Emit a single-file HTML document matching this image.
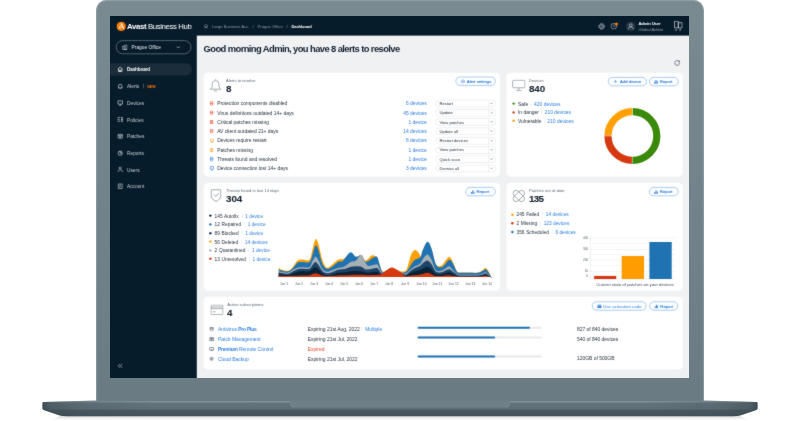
<!DOCTYPE html><html><head><meta charset="utf-8"><title>Avast Business Hub</title><style>
*{box-sizing:border-box;margin:0;padding:0}
html,body{width:800px;height:421px;overflow:hidden;background:#fff;font-family:"Liberation Sans",sans-serif}
#stage{position:relative;width:800px;height:421px;overflow:hidden;background:#fff}
#lid{position:absolute;left:96.2px;top:-.3px;width:607.4px;height:401.3px;background:linear-gradient(#798a91,#6a7b84);border-radius:10.5px 10.5px 0 0;box-shadow:inset 0 1.2px 0 0 rgba(165,180,187,.45),inset 1.2px 0 0 0 rgba(165,180,187,.45),inset -1.2px 0 0 0 rgba(165,180,187,.45)}
#base{position:absolute;left:0;top:0;width:800px;height:421px}
#scr{filter:url(#soft);position:absolute;left:110px;top:16.3px;width:1446.5px;height:903px;transform:scale(.4);transform-origin:0 0;background:#eff1f3;overflow:hidden;color:#1e2b3a}
#scr div,#scr span,#scr svg{position:absolute}
#side{left:0;top:0;width:217px;height:903px;background:#071c2b}
#head{left:0;top:0;width:1447px;height:49px;background:#071c2b}
.card{background:#fff;border-radius:11px}
.t{white-space:nowrap;line-height:1}

.lbl{color:#5b6773}
.big{font-weight:bold;color:#14202e;letter-spacing:-1.6px;-webkit-text-stroke:.25px #14202e}
.row{font-size:12.3px;color:#1e2b3a}
.lnk{color:#2a7de1}
.btn{border:1.4px solid #2a7de1;border-radius:12px;background:#fff;color:#2a7de1;font-size:10.6px;height:22px;-webkit-text-stroke:.3px #2a7de1}
.btn .t{top:5px}
.dd{border:1px solid #d5dade;border-radius:10px;background:#fff;height:18px;width:151px;left:814px}
.dd .t{left:9px;top:3.5px;font-size:10.4px;color:#1e2b3a}
.dd i{position:absolute;left:130px;top:0;width:1px;height:16px;background:#d5dade}
.dot{width:6px;height:6px;border-radius:50%}
.sep{width:1px;height:11px;background:#d5dade}
</style></head><body><div id="stage"><svg width="0" height="0" style="position:absolute"><defs><filter id="soft" x="0" y="0" width="1" height="1" color-interpolation-filters="sRGB"><feConvolveMatrix order="3" kernelMatrix="0.02 0.06 0.02 0.06 0.68 0.06 0.02 0.06 0.02" edgeMode="duplicate" preserveAlpha="true"/></filter></defs></svg>
<svg id="base" viewBox="0 0 800 421">
<defs>
<linearGradient id="bg1" x1="0" y1="0" x2="0" y2="1"><stop offset="0" stop-color="#8a989f"/><stop offset=".1" stop-color="#7d8d94"/><stop offset=".16" stop-color="#63747d"/><stop offset=".55" stop-color="#5e6f78"/><stop offset=".6" stop-color="#4a5860"/><stop offset="1" stop-color="#455259"/></linearGradient>
<linearGradient id="sh" x1="0" y1="0" x2="0" y2="1"><stop offset="0" stop-color="#000" stop-opacity=".18"/><stop offset="1" stop-color="#000" stop-opacity="0"/></linearGradient>
<linearGradient id="edge" x1="0" y1="0" x2="1" y2="0"><stop offset="0" stop-color="#35434b" stop-opacity=".8"/><stop offset=".012" stop-color="#3a4850" stop-opacity=".5"/><stop offset=".05" stop-color="#3f4d55" stop-opacity=".25"/><stop offset=".16" stop-color="#3f4d55" stop-opacity="0"/><stop offset=".84" stop-color="#3f4d55" stop-opacity="0"/><stop offset=".95" stop-color="#3f4d55" stop-opacity=".25"/><stop offset=".988" stop-color="#3a4850" stop-opacity=".5"/><stop offset="1" stop-color="#35434b" stop-opacity=".8"/></linearGradient>
</defs>
<path d="M62 415 H738 L748 420 H52 Z" fill="url(#sh)"/>
<path d="M43.800 402 Q42.500 402 42.500 403.300 V408.600 Q42.500 409.600 43.800 410 L59 415.200 Q62.500 416.300 67 416.300 H733 Q737.500 416.300 741 415.200 L756.200 410 Q757.500 409.600 757.500 408.600 V403.300 Q757.500 402 756.200 402 L704 400.500 H96 Z" fill="url(#bg1)"/>
<path d="M43.800 402 Q42.500 402 42.500 403.300 V408.600 Q42.500 409.600 43.800 410 L59 415.200 Q62.500 416.300 67 416.300 H733 Q737.500 416.300 741 415.200 L756.200 410 Q757.500 409.600 757.500 408.600 V403.300 Q757.500 402 756.200 402 L704 400.500 H96 Z" fill="url(#edge)"/>
<path d="M290 401 H510 V405.5 Q510 407.5 507 407.5 H293 Q290 407.5 290 405.5 Z" fill="#6f8089"/>
</svg>
<div id="lid"></div>
<div id="scr">
<div id="side"></div><div id="head"></div>
<svg style="left:15.800px;top:13.800px" width="24" height="24" viewBox="-12 -12 24 24"><circle r="11.600" fill="#ff7a00"/><g stroke="#fff" stroke-linecap="round" fill="none"><path d="M.300 -6.800L5.800 4.600" stroke-width="2.800"/><path d="M-1.600 -2.200L-5.800 5.300" stroke-width="2.200"/><path d="M1.200 .800L-1.200 5" stroke-width="1.700"/></g></svg>
<span class="t " style="left:42.5px;top:16.0px;font-size:19.5px;color:#fff;letter-spacing:-.95px"><b style="letter-spacing:-.9px">Avast</b> Business Hub</span>
<div style="left:15px;top:61px;width:188px;height:34px;border:1.3px solid #b9c2c9;border-radius:17px"></div>
<svg style="left:30px;top:71px" width="14" height="14" viewBox="0 0 14 14" fill="none" stroke="#dfe4e8" stroke-width="1.3"><path d="M5.5 12.5V1.5h7v11zM5.5 5h-4v7.5h11M8 4.5h2M8 7h2M8 9.500h2"/></svg>
<span class="t " style="left:54.0px;top:72.8px;font-size:12px;color:#e4e8ec">Prague Office</span>
<svg style="left:165px;top:73px" width="12" height="10" viewBox="0 0 12 10" fill="none" stroke="#dfe4e8" stroke-width="1.5"><path d="M2 3l4 4 4-4"/></svg>
<div style="left:0;top:118px;width:205px;height:31px;background:#1b2d3b;border-radius:0 16px 16px 0"></div>
<svg style="left:18px;top:126.2px" width="15" height="15" viewBox="0 0 14 14" fill="none" stroke="#fff" stroke-width="1.600"><path d="M1.5 6.500L7 1.500l5.500 5M3 5.500V12h8V5.500M5.500 12V8.500h3V12"/></svg>
<span class="t " style="left:42.5px;top:128.8px;font-size:11.5px;color:#fff;font-weight:bold;letter-spacing:-.3px">Dashboard</span>
<svg style="left:18px;top:167.9px" width="15" height="15" viewBox="0 0 14 14" fill="none" stroke="#d3d9de" stroke-width="1.600"><path d="M3 10V6.500a4 4 0 018 0V10l1 1H2zM5.800 12.500h2.400"/></svg>
<span class="t " style="left:42.5px;top:170.2px;font-size:12px;color:#c3cad1">Alerts</span>
<div style="left:84px;top:169.4px;width:1px;height:12px;background:#8b97a1"></div>
<span class="t " style="left:93.0px;top:172.8px;font-size:8.6px;color:#ff7800;font-weight:bold;letter-spacing:.4px">NEW</span>
<svg style="left:18px;top:209.6px" width="15" height="15" viewBox="0 0 14 14" fill="none" stroke="#d3d9de" stroke-width="1.600"><path d="M1.500 2h11v7.500h-11zM7 9.500v2.500M4.500 12.300h5" stroke-width="1.5"/></svg>
<span class="t " style="left:42.5px;top:211.9px;font-size:12px;color:#c3cad1">Devices</span>
<svg style="left:18px;top:251.2px" width="15" height="15" viewBox="0 0 14 14" fill="none" stroke="#d3d9de" stroke-width="1.600"><path d="M.500 3h6.500M.500 7h5M.500 11h6.500M9 3h4.500M11.200 3v8.500M9.200 7.500h4M9.200 11.500h4" stroke-width="1.600"/></svg>
<span class="t " style="left:42.5px;top:253.5px;font-size:12px;color:#c3cad1">Policies</span>
<svg style="left:18px;top:292.9px" width="15" height="15" viewBox="0 0 14 14" fill="none" stroke="#d3d9de" stroke-width="1.600"><path d="M2 2.500h10v9H2zM2 5h10M4.500 7.500h5M4.500 9.500h5" stroke-width="1.400"/></svg>
<span class="t " style="left:42.5px;top:295.2px;font-size:12px;color:#c3cad1">Patches</span>
<svg style="left:18px;top:334.5px" width="15" height="15" viewBox="0 0 14 14" fill="none" stroke="#d3d9de" stroke-width="1.600"><path d="M7 2.500a5 5 0 105 5H7zM9 1.500v3.500h3.500"/></svg>
<span class="t " style="left:42.5px;top:336.8px;font-size:12px;color:#c3cad1">Reports</span>
<svg style="left:18px;top:376.1px" width="15" height="15" viewBox="0 0 14 14" fill="none" stroke="#d3d9de" stroke-width="1.600"><path d="M7 6.500a2.600 2.600 0 100-5.200 2.600 2.600 0 000 5.200zM2 13c0-3.500 2-5 5-5s5 1.500 5 5" stroke-width="1.400"/></svg>
<span class="t " style="left:42.5px;top:378.5px;font-size:12px;color:#c3cad1">Users</span>
<svg style="left:18px;top:417.8px" width="15" height="15" viewBox="0 0 14 14" fill="none" stroke="#d3d9de" stroke-width="1.600"><path d="M2.500 1.500h9v11h-9zM5 4.500h4M5 7h4M5 9.500h2" stroke-width="1.400"/></svg>
<span class="t " style="left:42.5px;top:420.1px;font-size:12px;color:#c3cad1">Account</span>
<svg style="left:18.500px;top:867.5px" width="13" height="13" viewBox="0 0 13 13" fill="none" stroke="#b8c1c9" stroke-width="1.700"><path d="M6 1.500L1.500 6.500 6 11.500M11.500 1.500L7 6.500l4.500 5"/></svg>
<svg style="left:234.0px;top:19px" width="12" height="12" viewBox="0 0 14 14" fill="none" stroke="#9aa5af" stroke-width="1.300"><path d="M1.5 6.500L7 1.500l5.500 5M3 5.500V12h8V5.500M5.500 12V8.500h3V12"/></svg>
<span class="t " style="left:255.0px;top:22.4px;font-size:10.3px;color:#8e9aa5">Large Business Acc.</span>
<span class="t " style="left:356.5px;top:22.4px;font-size:10.3px;color:#8e9aa5">/</span>
<span class="t " style="left:369.0px;top:22.4px;font-size:10.3px;color:#8e9aa5">Prague Office</span>
<span class="t " style="left:441.5px;top:22.4px;font-size:10.3px;color:#8e9aa5">/</span>
<span class="t " style="left:453.5px;top:22.4px;font-size:10.3px;color:#fff;font-weight:bold;letter-spacing:-.35px">Dashboard</span>
<svg style="left:1220.0px;top:16.5px" width="18" height="18" viewBox="-9 -9 18 18" fill="none" stroke="#c3cad1"><circle r="5.200" stroke-width="1.500"/><circle r="7" stroke-width="2.400" stroke-dasharray="2.750 2.750"/><circle r="2" stroke-width="1.300"/></svg>
<svg style="left:1249.8px;top:14.8px" width="20" height="20" viewBox="0 0 20 20" fill="none" stroke="#c3cad1" stroke-width="1.400"><circle cx="9.500" cy="10.500" r="7"/><path d="M9.500 6v5h3"/><circle cx="16" cy="5" r="3.800" fill="#ff7800" stroke="none"/></svg>
<svg style="left:1290.0px;top:14.2px" width="24" height="24" viewBox="0 0 24 24" fill="none" stroke="#e4e8ec" stroke-width="1.500"><circle cx="12" cy="12" r="12" fill="#243544" stroke="none"/><circle cx="12" cy="9.300" r="3.600"/><path d="M5.500 19.500c0-4 3-6 6.500-6s6.500 2 6.500 6"/></svg>
<span class="t " style="left:1321.2px;top:12.8px;font-size:10.5px;color:#fff;font-weight:bold;letter-spacing:-.4px">Admin User</span>
<span class="t " style="left:1321.2px;top:28.1px;font-size:10.5px;color:#8e9aa5">Global Admin</span>
<svg style="left:1410.0px;top:12.3px" width="22" height="26" viewBox="0 0 22 26" fill="none" stroke="#c9d0d6" stroke-width="1.800"><path d="M1.200 1.200h9.500v16.500h-9.500zM10.700 4.700h9.500v13h-9.500z"/><path d="M3.500 21h3v3h-3zM14 21h3v3h-3z" fill="#c9d0d6" stroke="none"/></svg>
<span class="t " style="left:234.0px;top:71.3px;font-size:23.5px;font-weight:bold;color:#14202e;letter-spacing:-1.5px">Good morning Admin, you have 8 alerts to resolve</span>
<svg style="left:1409.5px;top:108.5px" width="16" height="16" viewBox="0 0 16 16" fill="none" stroke="#3a4652" stroke-width="1.700"><path d="M13.200 5.300A6 6 0 1014 9"/><path d="M14 2v4h-4" stroke-width="1.500"/></svg>
<div class="card" style="left:234.0px;top:141.5px;width:741.0px;height:259.2px"></div>
<div class="card" style="left:990.8px;top:141.5px;width:441.0px;height:259.2px"></div>
<div class="card" style="left:234.0px;top:416.5px;width:741.0px;height:270.0px"></div>
<div class="card" style="left:990.8px;top:416.5px;width:441.0px;height:270.0px"></div>
<div class="card" style="left:234.0px;top:701.5px;width:1197.8px;height:182.8px"></div>
<svg style="left:248.3px;top:156.0px" width="32" height="34" viewBox="0 0 32 34" fill="none" stroke="#8d979f" stroke-width="1.900"><path d="M16 2v2.500M7.500 21.500V14a8.500 8.500 0 0117 0v7.500l4.500 5.500H3zM12 31h8"/></svg>
<span class="t lbl" style="left:290.0px;top:156.4px;font-size:10.3px;">Alerts to resolve</span>
<span class="t big" style="left:290.0px;top:169.1px;font-size:24.4px;">8</span>
<div class="btn" style="left:864.0px;top:152.2px;width:100.0px"><svg style="left:12px;top:4.500px" width="11" height="11" viewBox="0 0 12 12" fill="none" stroke="#2a7de1" stroke-width="1.300"><path d="M6 1l4.300 2.500v5L6 11 1.700 8.500v-5z"/><circle cx="6" cy="6" r="1.600"/></svg><span class="t" style="left:27px;">Alert settings</span></div>
<svg style="left:248.5px;top:212.7px" width="10" height="12" viewBox="0 0 10 12" fill="none" stroke="#ea4a2c" stroke-width="1.800"><path d="M1.500 2.800Q1.500 1 3.200 1h3.600Q8.500 1 8.500 2.800V7Q8.500 9.800 5 11.200Q1.500 9.800 1.500 7zM1.500 5.600h7"/></svg>
<span class="t row" style="left:268.0px;top:213.4px;font-size:12.3px;">Protection components disabled</span>
<span class="t lnk" style="right:654.5px;top:213.4px;font-size:12.3px">6 devices</span>
<div class="dd" style="left:813.5px;top:209.7px"><span class="t">Restart</span><i></i><svg style="left:135px;top:5px" width="8" height="6" viewBox="0 0 8 6" fill="none" stroke="#3a4652" stroke-width="1.200"><path d="M1 1l3 3 3-3"/></svg></div>
<svg style="left:248.5px;top:236.0px" width="10" height="12" viewBox="0 0 10 12" fill="none" stroke="#ea4a2c" stroke-width="1.800"><path d="M1.500 2.800Q1.500 1 3.200 1h3.600Q8.500 1 8.500 2.800V7Q8.500 9.800 5 11.200Q1.500 9.800 1.500 7zM1.500 5.600h7"/></svg>
<span class="t row" style="left:268.0px;top:236.6px;font-size:12.3px;">Virus definitions outdated 14+ days</span>
<span class="t lnk" style="right:654.5px;top:236.7px;font-size:12.3px">45 devices</span>
<div class="dd" style="left:813.5px;top:233.0px"><span class="t">Update</span><i></i><svg style="left:135px;top:5px" width="8" height="6" viewBox="0 0 8 6" fill="none" stroke="#3a4652" stroke-width="1.200"><path d="M1 1l3 3 3-3"/></svg></div>
<svg style="left:248.5px;top:259.2px" width="10" height="12" viewBox="0 0 10 12"><rect x=".3" y="1.300" width="9.400" height="9.400" rx="2.200" fill="#f0806c"/><path d="M2.500 4.500h5M2.500 7.500h5" stroke="#fff" stroke-width="1"/></svg>
<span class="t row" style="left:268.0px;top:259.9px;font-size:12.3px;">Critical patches missing</span>
<span class="t lnk" style="right:654.5px;top:259.9px;font-size:12.3px">1 device</span>
<div class="dd" style="left:813.5px;top:256.2px"><span class="t">View patches</span><i></i><svg style="left:135px;top:5px" width="8" height="6" viewBox="0 0 8 6" fill="none" stroke="#3a4652" stroke-width="1.200"><path d="M1 1l3 3 3-3"/></svg></div>
<svg style="left:248.5px;top:282.4px" width="10" height="12" viewBox="0 0 10 12" fill="none" stroke="#ea4a2c" stroke-width="1.800"><path d="M1.500 2.800Q1.500 1 3.200 1h3.600Q8.500 1 8.500 2.800V7Q8.500 9.800 5 11.200Q1.500 9.800 1.500 7zM1.500 5.600h7"/></svg>
<span class="t row" style="left:268.0px;top:283.1px;font-size:12.3px;">AV client outdated 21+ days</span>
<span class="t lnk" style="right:654.5px;top:283.1px;font-size:12.3px">14 devices</span>
<div class="dd" style="left:813.5px;top:279.4px"><span class="t">Update all</span><i></i><svg style="left:135px;top:5px" width="8" height="6" viewBox="0 0 8 6" fill="none" stroke="#3a4652" stroke-width="1.200"><path d="M1 1l3 3 3-3"/></svg></div>
<svg style="left:248.5px;top:305.7px" width="11" height="12" viewBox="0 0 11 12" fill="none" stroke="#f5a21b" stroke-width="1.800"><path d="M2.500 1.500h6Q10 1.500 10 3v3.500Q10 8 8.500 8h-6Q1 8 1 6.500V3Q1 1.500 2.500 1.500zM3.500 10.700h4"/></svg>
<span class="t row" style="left:268.0px;top:306.4px;font-size:12.3px;">Devices require restart</span>
<span class="t lnk" style="right:654.5px;top:306.4px;font-size:12.3px">6 devices</span>
<div class="dd" style="left:813.5px;top:302.7px"><span class="t">Restart devices</span><i></i><svg style="left:135px;top:5px" width="8" height="6" viewBox="0 0 8 6" fill="none" stroke="#3a4652" stroke-width="1.200"><path d="M1 1l3 3 3-3"/></svg></div>
<svg style="left:248.5px;top:328.9px" width="10" height="12" viewBox="0 0 10 12"><rect x=".3" y="1.300" width="9.400" height="9.400" rx="2.200" fill="#fbbf5e"/><path d="M2.500 4.500h5M2.500 7.500h5" stroke="#fff" stroke-width="1"/></svg>
<span class="t row" style="left:268.0px;top:329.6px;font-size:12.3px;">Patches missing</span>
<span class="t lnk" style="right:654.5px;top:329.6px;font-size:12.3px">1 device</span>
<div class="dd" style="left:813.5px;top:325.9px"><span class="t">View patches</span><i></i><svg style="left:135px;top:5px" width="8" height="6" viewBox="0 0 8 6" fill="none" stroke="#3a4652" stroke-width="1.200"><path d="M1 1l3 3 3-3"/></svg></div>
<svg style="left:248.5px;top:352.2px" width="10" height="12" viewBox="0 0 10 12" fill="none" stroke="#2a7de1" stroke-width="1.800"><path d="M1.500 2.800Q1.500 1 3.200 1h3.600Q8.500 1 8.500 2.800V7Q8.500 9.800 5 11.200Q1.500 9.800 1.500 7zM1.500 5.600h7"/></svg>
<span class="t row" style="left:268.0px;top:352.9px;font-size:12.3px;">Threats found and resolved</span>
<span class="t lnk" style="right:654.5px;top:352.9px;font-size:12.3px">1 device</span>
<div class="dd" style="left:813.5px;top:349.2px"><span class="t">Quick scan</span><i></i><svg style="left:135px;top:5px" width="8" height="6" viewBox="0 0 8 6" fill="none" stroke="#3a4652" stroke-width="1.200"><path d="M1 1l3 3 3-3"/></svg></div>
<svg style="left:248.5px;top:375.4px" width="11" height="12" viewBox="0 0 11 12" fill="none" stroke="#2a7de1" stroke-width="1.800"><path d="M2.500 1.500h6Q10 1.500 10 3v3.500Q10 8 8.500 8h-6Q1 8 1 6.500V3Q1 1.500 2.500 1.500zM3.500 10.700h4"/></svg>
<span class="t row" style="left:268.0px;top:376.1px;font-size:12.3px;">Device connection lost 14+ days</span>
<span class="t lnk" style="right:654.5px;top:376.1px;font-size:12.3px">3 devices</span>
<div class="dd" style="left:813.5px;top:372.4px"><span class="t">Dismiss all</span><i></i><svg style="left:135px;top:5px" width="8" height="6" viewBox="0 0 8 6" fill="none" stroke="#3a4652" stroke-width="1.200"><path d="M1 1l3 3 3-3"/></svg></div>
<svg style="left:1004.5px;top:159.2px" width="34" height="30" viewBox="0 0 34 30" fill="none" stroke="#8d979f" stroke-width="2"><rect x="1.500" y="1.500" width="31" height="19" rx="3.500"/><path d="M17 20.500v6M10.500 27.500h13"/></svg>
<span class="t lbl" style="left:1047.5px;top:156.4px;font-size:10.3px;">Devices</span>
<span class="t big" style="left:1047.5px;top:169.1px;font-size:24.4px;letter-spacing:-.2px">840</span>
<div class="btn" style="left:1245.2px;top:152.9px;width:97.0px"><svg style="left:14px;top:6.500px" width="8" height="8" viewBox="0 0 8 8" stroke="#2a7de1" stroke-width="1.300"><path d="M4 0v8M0 4h8"/></svg><span class="t" style="left:29px;">Add device</span></div>
<div class="btn" style="left:1347.5px;top:152.9px;width:73.8px"><svg style="left:10.500px;top:4.500px" width="11.500" height="11.500" viewBox="0 0 10 10" fill="#2a7de1"><path d="M0 9h10v1H0zM1.500 5h2v3.500h-2zM4.200 1.500h2v7h-2zM6.900 4h2v4.500h-2z"/></svg><span class="t" style="left:26px;">Report</span></div>
<div class="dot" style="left:1005.7px;top:215.9px;background:#3a8a0a"></div>
<span class="t row" style="left:1020.0px;top:213.6px;"><span style="position:static">Safe</span><span style="position:static;display:inline-block;width:1px;height:11px;background:#d5dade;margin:0 7px;vertical-align:-1px"></span><span class="lnk" style="position:static">420 devices</span></span>
<div class="dot" style="left:1005.7px;top:237.7px;background:#d6380f"></div>
<span class="t row" style="left:1020.0px;top:235.4px;"><span style="position:static">In danger</span><span style="position:static;display:inline-block;width:1px;height:11px;background:#d5dade;margin:0 7px;vertical-align:-1px"></span><span class="lnk" style="position:static">210 devices</span></span>
<div class="dot" style="left:1005.7px;top:259.4px;background:#ffa000"></div>
<span class="t row" style="left:1020.0px;top:257.1px;"><span style="position:static">Vulnerable</span><span style="position:static;display:inline-block;width:1px;height:11px;background:#d5dade;margin:0 7px;vertical-align:-1px"></span><span class="lnk" style="position:static">210 devices</span></span>
<svg style="left:1231.0px;top:224.5px" width="150" height="150" viewBox="-75 -75 150 150" fill="none" stroke-width="18"><g transform="rotate(-90)"><circle r="61" stroke="#3a8a0a" stroke-dasharray="191.64 191.64"/><circle r="61" stroke="#d6380f" stroke-dasharray="95.82 287.46" stroke-dashoffset="-191.64"/><circle r="61" stroke="#ffa000" stroke-dasharray="95.82 287.46" stroke-dashoffset="-287.46"/></g><path d="M0 -75V-50M0 75V50M-75 0H-50" stroke="#fff" stroke-width="1.200"/></svg>
<svg style="left:250.5px;top:432.2px" width="28" height="34" viewBox="0 0 28 34" fill="none" stroke="#8d979f" stroke-width="2.100"><path d="M2 2.500h24v15q0 8.500-12 14.500q-12-6-12-14.500z"/><path d="M8 14.500l5 5 8-9"/></svg>
<span class="t lbl" style="left:290.0px;top:431.9px;font-size:10.3px;">Threats found in last 14 days</span>
<span class="t big" style="left:290.0px;top:444.1px;font-size:24.4px;letter-spacing:-.1px">304</span>
<div class="btn" style="left:889.0px;top:428.4px;width:75.0px"><svg style="left:10.500px;top:4.500px" width="11.500" height="11.500" viewBox="0 0 10 10" fill="#2a7de1"><path d="M0 9h10v1H0zM1.500 5h2v3.500h-2zM4.200 1.500h2v7h-2zM6.900 4h2v4.500h-2z"/></svg><span class="t" style="left:26px;">Report</span></div>
<div class="dot" style="left:247.5px;top:496.4px;background:#0a2236"></div>
<span class="t row" style="left:261.5px;top:494.1px;font-size:12px"><span style="position:static;word-spacing:.8px">145 Autofix</span><span style="position:static;display:inline-block;width:1px;height:11px;background:#d5dade;margin:0 7.500px 0 8px;vertical-align:-1px"></span><span class="lnk" style="position:static">1 device</span></span>
<div class="dot" style="left:247.5px;top:518.0px;background:#1f73b3"></div>
<span class="t row" style="left:261.5px;top:515.7px;font-size:12px"><span style="position:static;word-spacing:.8px">12 Repaired</span><span style="position:static;display:inline-block;width:1px;height:11px;background:#d5dade;margin:0 7.500px 0 8px;vertical-align:-1px"></span><span class="lnk" style="position:static">1 device</span></span>
<div class="dot" style="left:247.5px;top:539.6px;background:#1d3a5c"></div>
<span class="t row" style="left:261.5px;top:537.3px;font-size:12px"><span style="position:static;word-spacing:.8px">89 Blocked</span><span style="position:static;display:inline-block;width:1px;height:11px;background:#d5dade;margin:0 7.500px 0 8px;vertical-align:-1px"></span><span class="lnk" style="position:static">1 device</span></span>
<div class="dot" style="left:247.5px;top:561.2px;background:#ffa000"></div>
<span class="t row" style="left:261.5px;top:558.9px;font-size:12px"><span style="position:static;word-spacing:.8px">56 Deleted</span><span style="position:static;display:inline-block;width:1px;height:11px;background:#d5dade;margin:0 7.500px 0 8px;vertical-align:-1px"></span><span class="lnk" style="position:static">14 devices</span></span>
<div class="dot" style="left:247.5px;top:582.8px;background:#a7afb5"></div>
<span class="t row" style="left:261.5px;top:580.5px;font-size:12px"><span style="position:static;word-spacing:.8px">2 Quarantined</span><span style="position:static;display:inline-block;width:1px;height:11px;background:#d5dade;margin:0 7.500px 0 8px;vertical-align:-1px"></span><span class="lnk" style="position:static">1 device</span></span>
<div class="dot" style="left:247.5px;top:604.4px;background:#d6380f"></div>
<span class="t row" style="left:261.5px;top:602.1px;font-size:12px"><span style="position:static;word-spacing:.8px">13 Unresolved</span><span style="position:static;display:inline-block;width:1px;height:11px;background:#d5dade;margin:0 7.500px 0 8px;vertical-align:-1px"></span><span class="lnk" style="position:static">1 device</span></span>
<svg style="left:0;top:0" width="1450" height="904" viewBox="0 0 1450 904"><path d="M421.9 630.0 C423.4 630.8 427.2 633.7 431.2 634.9 C435.3 636.0 441.9 638.1 446.2 636.7 C450.6 635.4 453.7 631.2 457.5 627.0 C461.2 622.7 465.0 614.3 468.7 611.2 C472.5 608.2 475.0 608.9 480.0 608.6 C485.0 608.3 494.4 613.6 498.7 609.4 C503.1 605.1 503.7 591.7 506.2 583.1 C508.7 574.6 511.2 560.2 513.7 558.0 C516.2 555.8 518.4 561.4 521.2 570.0 C524.1 578.6 527.2 599.5 530.6 609.4 C534.1 619.2 537.8 627.2 541.9 629.2 C545.9 631.3 550.3 625.1 555.0 621.7 C559.7 618.4 565.6 611.6 570.0 609.4 C574.4 607.1 578.1 608.9 581.2 608.2 C584.4 607.6 585.3 607.9 588.7 605.2 C592.2 602.6 597.5 592.4 601.9 592.1 C606.2 591.8 610.6 602.4 615.0 603.4 C619.4 604.3 624.4 596.4 628.1 597.7 C631.9 599.1 634.7 609.6 637.5 611.2 C640.3 612.9 642.0 609.7 645.0 607.5 C648.0 605.3 651.7 598.8 655.5 598.1 C659.2 597.4 664.6 600.1 667.5 603.4 C670.4 606.7 671.2 612.9 673.1 618.0 C675.0 623.1 676.9 630.2 678.7 633.7 C680.6 637.3 681.2 639.4 684.4 639.4 C687.5 639.3 693.9 634.9 697.5 633.4 C701.1 631.9 701.7 629.6 706.2 630.4 C710.8 631.2 719.7 637.1 725.0 638.2 C730.3 639.4 735.0 639.2 738.1 637.5 C741.2 635.8 741.2 635.0 743.7 628.1 C746.2 621.2 750.0 603.4 753.1 596.2 C756.2 589.1 759.4 585.6 762.5 585.0 C765.6 584.4 769.4 589.7 771.9 592.5 C774.4 595.2 775.9 602.2 777.5 601.5 C779.1 600.8 778.6 594.3 781.2 588.4 C783.9 582.4 789.9 566.8 793.6 565.9 C797.4 564.9 800.2 573.6 803.7 582.7 C807.3 591.9 810.9 613.7 815.0 620.6 C819.1 627.6 824.4 625.6 828.1 624.4 C831.9 623.1 834.2 616.9 837.5 613.1 C840.8 609.4 844.9 601.9 848.0 601.9 C851.1 601.9 853.0 607.1 856.2 613.1 C859.5 619.2 864.4 633.6 867.5 638.2 C870.6 642.9 870.0 640.7 875.0 641.2 C880.0 641.7 890.0 641.2 897.5 641.2 C905.0 641.2 914.4 642.2 920.0 641.2 C925.6 640.3 928.1 637.5 931.2 635.6 C934.4 633.7 936.2 629.6 938.7 630.0 C941.2 630.4 943.7 634.2 946.2 638.2 C948.7 642.2 952.5 651.4 953.7 654.0 L953.7 652.5 L421.9 652.5 Z" fill="#ffa000"/>
<path d="M421.9 633.0 C423.4 633.6 427.2 635.9 431.2 636.7 C435.3 637.6 441.9 639.4 446.2 638.2 C450.6 637.1 453.7 633.6 457.5 630.0 C461.2 626.4 465.0 619.4 468.7 616.9 C472.5 614.4 475.0 615.3 480.0 615.0 C485.0 614.7 494.4 618.1 498.7 615.0 C503.1 611.9 503.7 603.1 506.2 596.2 C508.7 589.4 511.2 575.6 513.7 573.7 C516.2 571.9 518.4 577.5 521.2 585.0 C524.1 592.5 527.2 610.9 530.6 618.7 C534.1 626.6 537.8 630.5 541.9 631.9 C545.9 633.2 550.3 629.8 555.0 627.0 C559.7 624.2 565.6 617.3 570.0 615.0 C574.4 612.7 578.1 615.0 581.2 613.1 C584.4 611.2 585.3 607.5 588.7 603.7 C592.2 600.0 597.5 590.9 601.9 590.6 C606.2 590.3 610.6 600.7 615.0 601.9 C619.4 603.1 624.4 595.9 628.1 597.7 C631.9 599.6 634.7 610.6 637.5 613.1 C640.3 615.7 642.0 614.4 645.0 613.1 C648.0 611.9 651.7 607.5 655.5 605.6 C659.2 603.7 664.6 599.7 667.5 601.9 C670.4 604.1 671.2 613.1 673.1 618.7 C675.0 624.4 676.9 632.0 678.7 635.6 C680.6 639.2 681.2 640.9 684.4 640.5 C687.5 640.1 693.9 635.1 697.5 633.4 C701.1 631.7 701.7 629.1 706.2 630.4 C710.8 631.6 719.7 639.2 725.0 640.9 C730.3 642.6 735.0 641.4 738.1 640.5 C741.2 639.6 741.2 638.9 743.7 635.6 C746.2 632.3 750.0 625.0 753.1 620.6 C756.2 616.2 759.4 611.9 762.5 609.4 C765.6 606.9 769.4 607.2 771.9 605.6 C774.4 604.1 775.9 603.1 777.5 600.0 C779.1 596.9 778.6 592.8 781.2 586.9 C783.9 580.9 789.9 565.3 793.6 564.4 C797.4 563.4 800.2 571.7 803.7 581.2 C807.3 590.8 810.9 613.9 815.0 621.7 C819.1 629.6 824.4 628.3 828.1 628.1 C831.9 627.9 834.2 623.7 837.5 620.6 C840.8 617.5 844.9 610.0 848.0 609.4 C851.1 608.7 853.0 611.9 856.2 616.9 C859.5 621.9 864.4 635.2 867.5 639.4 C870.6 643.6 870.0 641.6 875.0 642.0 C880.0 642.4 890.0 642.0 897.5 642.0 C905.0 642.0 914.4 642.7 920.0 642.0 C925.6 641.2 928.1 639.0 931.2 637.5 C934.4 636.0 936.2 632.5 938.7 633.0 C941.2 633.5 943.7 637.0 946.2 640.5 C948.7 644.0 952.5 651.7 953.7 654.0 L953.7 652.5 L421.9 652.5 Z" fill="#1f73b3"/>
<path d="M421.9 637.5 C423.4 638.0 427.2 639.9 431.2 640.5 C435.3 641.1 441.9 642.2 446.2 641.2 C450.6 640.2 453.7 636.5 457.5 634.5 C461.2 632.5 465.0 630.3 468.7 629.2 C472.5 628.2 475.0 628.3 480.0 628.1 C485.0 627.9 494.4 630.6 498.7 628.1 C503.1 625.6 503.7 617.5 506.2 613.1 C508.7 608.7 511.2 602.2 513.7 601.9 C516.2 601.6 518.4 606.2 521.2 611.2 C524.1 616.2 527.2 627.2 530.6 631.9 C534.1 636.6 537.8 638.7 541.9 639.4 C545.9 640.0 550.3 637.2 555.0 635.6 C559.7 634.1 565.6 631.2 570.0 630.0 C574.4 628.7 578.1 629.1 581.2 628.1 C584.4 627.2 585.3 626.6 588.7 624.4 C592.2 622.2 597.5 617.2 601.9 615.0 C606.2 612.8 610.6 614.4 615.0 611.2 C619.4 608.1 624.4 595.6 628.1 596.2 C631.9 596.9 634.7 610.3 637.5 615.0 C640.3 619.7 642.0 623.0 645.0 624.4 C648.0 625.7 651.7 623.9 655.5 623.2 C659.2 622.6 664.6 619.5 667.5 620.6 C670.4 621.7 671.2 626.9 673.1 630.0 C675.0 633.1 676.9 637.2 678.7 639.4 C680.6 641.5 681.2 643.7 684.4 642.7 C687.5 641.7 693.9 635.4 697.5 633.4 C701.1 631.3 701.7 629.1 706.2 630.4 C710.8 631.6 719.7 638.6 725.0 640.9 C730.3 643.2 735.0 644.2 738.1 644.2 C741.2 644.3 741.2 643.3 743.7 641.2 C746.2 639.2 750.0 634.5 753.1 631.9 C756.2 629.2 759.4 627.2 762.5 625.5 C765.6 623.8 769.4 623.2 771.9 621.7 C774.4 620.3 775.9 618.9 777.5 616.9 C779.1 614.8 778.6 612.8 781.2 609.4 C783.9 605.9 789.9 596.2 793.6 596.2 C797.4 596.2 800.2 602.8 803.7 609.4 C807.3 615.9 810.9 631.1 815.0 635.6 C819.1 640.2 824.4 637.4 828.1 636.7 C831.9 636.1 834.2 633.7 837.5 631.9 C840.8 630.0 844.9 625.2 848.0 625.5 C851.1 625.8 853.0 630.5 856.2 633.7 C859.5 637.0 864.4 642.8 867.5 645.0 C870.6 647.2 870.0 646.6 875.0 646.9 C880.0 647.2 890.0 646.9 897.5 646.9 C905.0 646.9 914.4 647.3 920.0 646.9 C925.6 646.4 928.1 645.3 931.2 644.2 C934.4 643.2 936.2 640.1 938.7 640.5 C941.2 640.9 943.7 644.6 946.2 646.9 C948.7 649.1 952.5 652.8 953.7 654.0 L953.7 652.5 L421.9 652.5 Z" fill="#a7afb5"/>
<path d="M421.9 640.5 C423.4 640.9 427.2 642.5 431.2 643.1 C435.3 643.7 441.9 645.1 446.2 644.2 C450.6 643.4 453.7 640.1 457.5 638.2 C461.2 636.4 465.0 634.1 468.7 633.0 C472.5 631.9 475.0 632.1 480.0 631.9 C485.0 631.7 494.4 633.4 498.7 631.9 C503.1 630.3 503.7 625.3 506.2 622.5 C508.7 619.7 511.2 615.0 513.7 615.0 C516.2 615.0 518.4 618.9 521.2 622.5 C524.1 626.1 527.2 633.3 530.6 636.7 C534.1 640.2 537.8 642.5 541.9 643.1 C545.9 643.7 550.3 641.9 555.0 640.5 C559.7 639.1 565.6 635.7 570.0 634.5 C574.4 633.2 578.1 633.4 581.2 633.0 C584.4 632.6 585.3 632.9 588.7 631.9 C592.2 630.9 597.5 628.1 601.9 627.0 C606.2 625.9 610.6 625.5 615.0 625.5 C619.4 625.5 624.4 625.7 628.1 627.0 C631.9 628.2 634.7 631.9 637.5 633.0 C640.3 634.1 642.0 633.9 645.0 633.7 C648.0 633.6 651.7 632.5 655.5 631.9 C659.2 631.2 664.6 629.4 667.5 630.0 C670.4 630.6 671.2 633.4 673.1 635.6 C675.0 637.8 676.9 641.9 678.7 643.1 C680.6 644.3 681.2 644.4 684.4 642.7 C687.5 641.1 693.9 635.4 697.5 633.4 C701.1 631.3 701.7 629.1 706.2 630.4 C710.8 631.6 719.7 638.1 725.0 640.9 C730.3 643.6 735.0 646.3 738.1 646.9 C741.2 647.4 741.2 646.1 743.7 644.2 C746.2 642.4 750.0 638.0 753.1 635.6 C756.2 633.2 759.4 631.6 762.5 630.0 C765.6 628.4 769.4 627.4 771.9 626.2 C774.4 625.1 775.9 624.5 777.5 623.2 C779.1 622.0 778.6 620.7 781.2 618.7 C783.9 616.7 789.9 610.9 793.6 611.2 C797.4 611.6 800.2 615.9 803.7 620.6 C807.3 625.3 810.9 636.1 815.0 639.4 C819.1 642.7 824.4 640.9 828.1 640.5 C831.9 640.1 834.2 638.0 837.5 636.7 C840.8 635.5 844.9 632.7 848.0 633.0 C851.1 633.2 853.0 635.9 856.2 638.2 C859.5 640.6 864.4 645.1 867.5 646.9 C870.6 648.6 870.0 648.4 875.0 648.7 C880.0 649.1 890.0 648.7 897.5 648.7 C905.0 648.7 914.4 649.2 920.0 648.7 C925.6 648.3 928.1 647.1 931.2 646.1 C934.4 645.2 936.2 642.8 938.7 643.1 C941.2 643.4 943.7 646.2 946.2 648.0 C948.7 649.8 952.5 653.0 953.7 654.0 L953.7 652.5 L421.9 652.5 Z" fill="#1d4468"/>
<path d="M421.9 645.0 C423.4 645.3 427.2 646.4 431.2 646.9 C435.3 647.3 441.9 648.2 446.2 647.6 C450.6 647.0 453.7 644.5 457.5 643.1 C461.2 641.7 465.0 640.2 468.7 639.4 C472.5 638.6 475.0 638.4 480.0 638.2 C485.0 638.1 494.4 639.3 498.7 638.2 C503.1 637.2 503.7 633.6 506.2 631.9 C508.7 630.2 511.2 627.9 513.7 628.1 C516.2 628.3 518.4 630.5 521.2 633.0 C524.1 635.5 527.2 640.6 530.6 643.1 C534.1 645.6 537.8 647.5 541.9 648.0 C545.9 648.5 550.3 647.1 555.0 646.1 C559.7 645.1 565.6 642.8 570.0 642.0 C574.4 641.2 578.1 641.5 581.2 641.2 C584.4 641.0 585.3 641.0 588.7 640.5 C592.2 640.0 597.5 638.7 601.9 638.2 C606.2 637.7 610.6 637.5 615.0 637.5 C619.4 637.5 624.4 637.6 628.1 638.2 C631.9 638.9 634.7 640.6 637.5 641.2 C640.3 641.9 642.0 642.1 645.0 642.0 C648.0 641.9 651.7 640.9 655.5 640.5 C659.2 640.1 664.6 638.9 667.5 639.4 C670.4 639.8 671.2 641.9 673.1 643.1 C675.0 644.3 676.9 646.6 678.7 646.5 C680.6 646.4 681.2 644.9 684.4 642.7 C687.5 640.6 693.9 635.4 697.5 633.4 C701.1 631.3 701.7 629.1 706.2 630.4 C710.8 631.6 719.7 637.7 725.0 640.9 C730.3 644.1 735.0 648.5 738.1 649.5 C741.2 650.5 741.2 648.2 743.7 646.9 C746.2 645.5 750.0 642.7 753.1 641.2 C756.2 639.8 759.4 639.2 762.5 638.2 C765.6 637.3 769.4 636.4 771.9 635.6 C774.4 634.9 775.9 634.4 777.5 633.7 C779.1 633.1 778.6 633.0 781.2 631.9 C783.9 630.7 789.9 626.7 793.6 627.0 C797.4 627.3 800.2 630.7 803.7 633.7 C807.3 636.7 810.9 643.0 815.0 645.0 C819.1 647.0 824.4 646.1 828.1 645.7 C831.9 645.4 834.2 644.0 837.5 643.1 C840.8 642.2 844.9 640.3 848.0 640.5 C851.1 640.7 853.0 642.7 856.2 644.2 C859.5 645.7 864.4 648.4 867.5 649.5 C870.6 650.6 870.0 650.4 875.0 650.6 C880.0 650.8 890.0 650.6 897.5 650.6 C905.0 650.6 914.4 650.9 920.0 650.6 C925.6 650.3 928.1 649.4 931.2 648.7 C934.4 648.1 936.2 646.7 938.7 646.9 C941.2 647.1 943.7 648.7 946.2 649.9 C948.7 651.1 952.5 653.3 953.7 654.0 L953.7 652.5 L421.9 652.5 Z" fill="#0a2236"/>
<path d="M421.9 649.5 C423.4 649.6 427.2 649.8 431.2 649.9 C435.3 649.9 441.9 649.9 446.2 649.9 C450.6 649.8 453.7 649.6 457.5 649.5 C461.2 649.4 465.0 649.2 468.7 649.1 C472.5 649.0 475.0 648.9 480.0 648.7 C485.0 648.6 494.4 648.6 498.7 648.0 C503.1 647.4 503.7 645.8 506.2 645.0 C508.7 644.2 511.2 643.1 513.7 643.1 C516.2 643.1 518.4 644.1 521.2 645.0 C524.1 645.9 527.2 647.9 530.6 648.7 C534.1 649.6 537.8 649.7 541.9 649.9 C545.9 650.0 550.3 649.7 555.0 649.5 C559.7 649.3 565.6 648.9 570.0 648.7 C574.4 648.6 578.1 648.5 581.2 648.4 C584.4 648.2 585.3 648.2 588.7 648.0 C592.2 647.8 597.5 647.4 601.9 647.2 C606.2 647.1 610.6 646.9 615.0 646.9 C619.4 646.8 624.4 646.7 628.1 646.9 C631.9 647.0 634.7 647.4 637.5 647.6 C640.3 647.8 642.0 648.0 645.0 648.0 C648.0 648.0 651.7 647.7 655.5 647.6 C659.2 647.5 664.6 647.4 667.5 647.2 C670.4 647.1 671.2 647.2 673.1 646.9 C675.0 646.5 676.9 645.9 678.7 645.0 C680.6 644.1 681.2 643.4 684.4 641.2 C687.5 639.1 693.9 633.9 697.5 631.9 C701.1 629.8 701.7 627.6 706.2 628.9 C710.8 630.1 719.7 635.7 725.0 639.4 C730.3 643.0 735.0 648.7 738.1 650.6 C741.2 652.5 741.2 650.9 743.7 650.6 C746.2 650.3 750.0 649.2 753.1 648.7 C756.2 648.3 759.4 648.3 762.5 648.0 C765.6 647.7 769.4 647.2 771.9 646.9 C774.4 646.6 775.9 646.4 777.5 646.1 C779.1 645.8 778.6 645.7 781.2 645.0 C783.9 644.3 789.9 641.9 793.6 642.0 C797.4 642.1 800.2 644.4 803.7 645.7 C807.3 647.1 810.9 649.2 815.0 649.9 C819.1 650.6 824.4 650.1 828.1 649.9 C831.9 649.7 834.2 649.1 837.5 648.7 C840.8 648.4 844.9 647.9 848.0 648.0 C851.1 648.1 853.0 649.0 856.2 649.5 C859.5 650.0 864.4 650.7 867.5 651.0 C870.6 651.3 870.0 651.3 875.0 651.4 C880.0 651.4 890.0 651.4 897.5 651.4 C905.0 651.4 914.4 651.5 920.0 651.4 C925.6 651.2 928.1 650.9 931.2 650.6 C934.4 650.3 936.2 649.4 938.7 649.5 C941.2 649.6 943.7 650.5 946.2 651.0 C948.7 651.5 952.5 652.2 953.7 652.5 L953.7 652.5 L421.9 652.5 Z" fill="#d6380f"/></svg>
<span class="t" style="left:405.3px;top:666.4px;width:60px;text-align:center;font-size:8.3px;color:#4c5864">Jun 1</span>
<span class="t" style="left:442.8px;top:666.4px;width:60px;text-align:center;font-size:8.3px;color:#4c5864">Jun 2</span>
<span class="t" style="left:480.3px;top:666.4px;width:60px;text-align:center;font-size:8.3px;color:#4c5864">Jun 3</span>
<span class="t" style="left:517.8px;top:666.4px;width:60px;text-align:center;font-size:8.3px;color:#4c5864">Jun 4</span>
<span class="t" style="left:555.2px;top:666.4px;width:60px;text-align:center;font-size:8.3px;color:#4c5864">Jun 5</span>
<span class="t" style="left:592.8px;top:666.4px;width:60px;text-align:center;font-size:8.3px;color:#4c5864">Jun 6</span>
<span class="t" style="left:630.2px;top:666.4px;width:60px;text-align:center;font-size:8.3px;color:#4c5864">Jun 7</span>
<span class="t" style="left:667.8px;top:666.4px;width:60px;text-align:center;font-size:8.3px;color:#4c5864">Jun 8</span>
<span class="t" style="left:707.5px;top:666.4px;width:60px;text-align:center;font-size:8.3px;color:#4c5864">Jun 9</span>
<span class="t" style="left:748.8px;top:666.4px;width:60px;text-align:center;font-size:8.3px;color:#4c5864">Jun 10</span>
<span class="t" style="left:787.8px;top:666.4px;width:60px;text-align:center;font-size:8.3px;color:#4c5864">Jun 11</span>
<span class="t" style="left:829.0px;top:666.4px;width:60px;text-align:center;font-size:8.3px;color:#4c5864">Jun 12</span>
<span class="t" style="left:871.0px;top:666.4px;width:60px;text-align:center;font-size:8.3px;color:#4c5864">Jun 13</span>
<span class="t" style="left:912.2px;top:666.4px;width:60px;text-align:center;font-size:8.3px;color:#4c5864">Jun 14</span>
<svg style="left:1005.5px;top:433.8px" width="32" height="32" viewBox="-16 -16 32 32" fill="none" stroke="#8d979f" stroke-width="2"><rect x="-17" y="-7.500" width="34" height="15" rx="7.500" transform="rotate(45)"/><rect x="-17" y="-7.500" width="34" height="15" rx="7.500" transform="rotate(-45)"/></svg>
<span class="t lbl" style="left:1047.5px;top:431.9px;font-size:10.3px;">Patches out of date</span>
<span class="t big" style="left:1047.5px;top:444.1px;font-size:24.4px;">135</span>
<div class="btn" style="left:1347.5px;top:428.4px;width:73.8px"><svg style="left:10.500px;top:4.500px" width="11.500" height="11.500" viewBox="0 0 10 10" fill="#2a7de1"><path d="M0 9h10v1H0zM1.500 5h2v3.500h-2zM4.200 1.500h2v7h-2zM6.900 4h2v4.500h-2z"/></svg><span class="t" style="left:26px;">Report</span></div>
<div class="dot" style="left:1003.2px;top:493.6px;background:#ffa000"></div>
<span class="t row" style="left:1016.2px;top:491.3px;font-size:12px"><span style="position:static;word-spacing:.8px">245 Failed</span><span style="position:static;display:inline-block;width:1px;height:11px;background:#d5dade;margin:0 7.500px 0 8px;vertical-align:-1px"></span><span class="lnk" style="position:static">14 devices</span></span>
<div class="dot" style="left:1003.2px;top:515.1px;background:#d6380f"></div>
<span class="t row" style="left:1016.2px;top:512.9px;font-size:12px"><span style="position:static;word-spacing:.8px">2 Missing</span><span style="position:static;display:inline-block;width:1px;height:11px;background:#d5dade;margin:0 7.500px 0 8px;vertical-align:-1px"></span><span class="lnk" style="position:static">123 devices</span></span>
<div class="dot" style="left:1003.2px;top:536.6px;background:#1f73b3"></div>
<span class="t row" style="left:1016.2px;top:534.4px;font-size:12px"><span style="position:static;word-spacing:.8px">356 Scheduled</span><span style="position:static;display:inline-block;width:1px;height:11px;background:#d5dade;margin:0 7.500px 0 8px;vertical-align:-1px"></span><span class="lnk" style="position:static">6 devices</span></span>
<svg style="left:0;top:1.300px" width="1450" height="904" viewBox="0 0 1450 904"><rect x="1197.0" y="553.4" width="216.8" height="1.200" fill="#e3e6e9"/><rect x="1197.0" y="567.4" width="216.8" height="1.200" fill="#eef0f2"/><rect x="1197.0" y="581.6" width="216.8" height="1.200" fill="#e3e6e9"/><rect x="1197.0" y="594.9" width="216.8" height="1.200" fill="#eef0f2"/><rect x="1197.0" y="608.4" width="216.8" height="1.200" fill="#e3e6e9"/><rect x="1197.0" y="621.9" width="216.8" height="1.200" fill="#eef0f2"/><rect x="1197.0" y="636.4" width="216.8" height="1.200" fill="#e3e6e9"/><rect x="1197.0" y="648.9" width="216.8" height="1.200" fill="#eef0f2"/><rect x="1200.4" y="546.5" width="1.200" height="110.0" fill="#dfe3e6"/><rect x="1197.0" y="655.9" width="216.8" height="1.200" fill="#e3e6e9"/><rect x="1210.2" y="648.8" width="55.3" height="7.8" fill="#d6380f"/><rect x="1279.2" y="599.0" width="56.0" height="57.5" fill="#ff9c00"/><rect x="1348.5" y="564.0" width="55.8" height="92.5" fill="#1f73b3"/></svg>
<span class="t" style="right:251.5px;top:551.3px;font-size:7.500px;color:#4c5864">400</span>
<span class="t" style="right:251.5px;top:579.5px;font-size:7.500px;color:#4c5864">300</span>
<span class="t" style="right:251.5px;top:606.3px;font-size:7.500px;color:#4c5864">200</span>
<span class="t" style="right:251.5px;top:634.3px;font-size:7.500px;color:#4c5864">10</span>
<span class="t" style="right:251.5px;top:646.8px;font-size:7.500px;color:#4c5864">0</span>
<span class="t " style="left:1215.5px;top:664.7px;font-size:10.8px;color:#3a4652">Current state of patches on your devices</span>
<svg style="left:250.5px;top:720.5px" width="33" height="27" viewBox="0 0 33 27" fill="none" stroke="#8d979f" stroke-width="1.900"><rect x="1.500" y="1.500" width="30" height="24" rx="2.500"/><path d="M1.500 6.500h30M1.500 10.500h30M6 18.500h7"/></svg>
<span class="t lbl" style="left:293.0px;top:716.7px;font-size:10.3px;">Active subscriptions</span>
<span class="t big" style="left:292.5px;top:729.1px;font-size:24.4px;">4</span>
<div class="btn" style="left:1205.0px;top:714.2px;width:136.2px"><svg style="left:12px;top:6px" width="11" height="9" viewBox="0 0 11 9"><rect width="11" height="9" rx="1.500" fill="#2a7de1"/><path d="M0 3h11" stroke="#fff" stroke-width="1"/><path d="M2 6h3" stroke="#fff" stroke-width="1"/></svg><span class="t" style="left:27px;font-size:11px;-webkit-text-stroke:0">Use activation code</span></div>
<div class="btn" style="left:1348.8px;top:714.2px;width:71.2px"><svg style="left:10.500px;top:4.500px" width="11.500" height="11.500" viewBox="0 0 10 10" fill="#2a7de1"><path d="M0 9h10v1H0zM1.500 5h2v3.500h-2zM4.200 1.500h2v7h-2zM6.900 4h2v4.500h-2z"/></svg><span class="t" style="left:26px;">Report</span></div>
<svg style="left:248.0px;top:777.0px" width="12" height="12" viewBox="0 0 12 12" fill="none" stroke="#414d59" stroke-width="1.500"><path d="M2 1.500h8v6L6 11 2 7.500zM2 5h8"/></svg>
<span class="t lnk" style="left:270.0px;top:777.7px;font-size:12.3px;">Antivirus <b style="letter-spacing:-.5px">Pro Plus</b></span>
<span class="t row" style="left:494.5px;top:777.7px;font-size:12.3px;">Expiring 21st Aug, 2022</span>
<div class="sep" style="left:629.0px;top:777.5px"></div>
<span class="t lnk" style="left:638.0px;top:777.7px;font-size:12.3px;">Multiple</span>
<div style="left:769.2px;top:777.0px;width:309.8px;height:5px;border-radius:3px;background:#e6e9ec"></div>
<div style="left:769.2px;top:777.0px;width:281.0px;height:5px;border-radius:3px;background:#1f73b3"></div>
<span class="t row" style="left:1167.5px;top:777.7px;font-size:12.3px;">827 of 840 devices</span>
<svg style="left:248.0px;top:802.0px" width="12" height="12" viewBox="0 0 12 12" fill="none" stroke="#414d59" stroke-width="1.500"><path d="M1.500 2h9v8h-9zM1.500 4.500h9M4 6.500h4M4 8.300h4"/></svg>
<span class="t lnk" style="left:270.0px;top:802.7px;font-size:12.3px;">Patch Management</span>
<span class="t row" style="left:494.5px;top:802.7px;font-size:12.3px;">Expiring 21st Jul, 2022</span>
<div style="left:769.2px;top:801.1px;width:309.8px;height:5px;border-radius:3px;background:#e6e9ec"></div>
<div style="left:769.2px;top:801.1px;width:194.2px;height:5px;border-radius:3px;background:#1f73b3"></div>
<span class="t row" style="left:1167.5px;top:802.7px;font-size:12.3px;">540 of 840 devices</span>
<svg style="left:248.0px;top:826.5px" width="12" height="12" viewBox="0 0 12 12" fill="none" stroke="#414d59" stroke-width="1.500"><path d="M1 2h10v6H1zM4 10.500l2-2.500 2 2.500"/></svg>
<span class="t lnk" style="left:270.0px;top:827.2px;font-size:12.3px;"><b style="letter-spacing:-.5px">Premium</b> Remote Control</span>
<span class="t " style="left:494.5px;top:827.2px;font-size:12.3px;color:#e8492e">Expired</span>
<svg style="left:248.0px;top:851.0px" width="12" height="12" viewBox="0 0 12 12" fill="none" stroke="#414d59" stroke-width="1.500"><path d="M1 6c1.500-2.500 3-3.500 5-3.500S9.500 3.500 11 6c-1.500 2.500-3 3.500-5 3.500S2.500 8.500 1 6z"/><circle cx="6" cy="6" r="1.500"/></svg>
<span class="t lnk" style="left:270.0px;top:851.7px;font-size:12.3px;">Cloud Backup</span>
<span class="t row" style="left:494.5px;top:851.7px;font-size:12.3px;">Expiring 21st Jul, 2022</span>
<div style="left:769.2px;top:849.3px;width:309.8px;height:5px;border-radius:3px;background:#e6e9ec"></div>
<div style="left:769.2px;top:849.3px;width:194.2px;height:5px;border-radius:3px;background:#1f73b3"></div>
<span class="t row" style="left:1167.5px;top:848.7px;font-size:12.3px;">120GB of 500GB</span>
</div></div></body></html>
